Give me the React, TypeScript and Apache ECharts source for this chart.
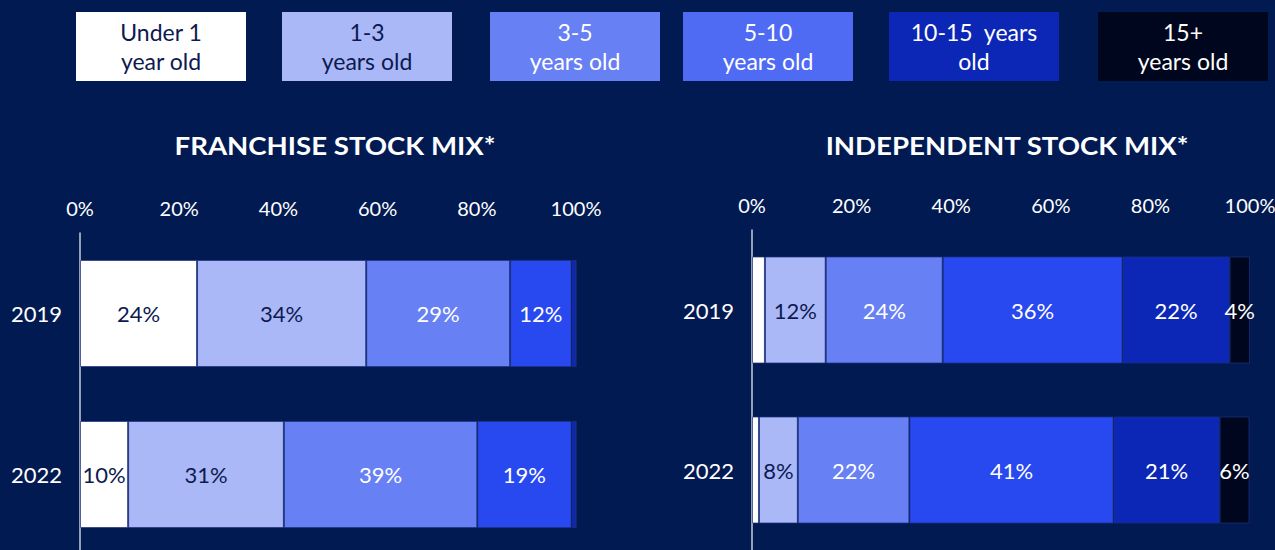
import React, { useEffect, useRef } from "react";
import * as echarts from "echarts";

const years = ["2019", "2022"];
const ageGroups = [
  "Under 1\nyear old",
  "1-3\nyears old",
  "3-5\nyears old",
  "5-10\nyears old",
  "10-15  years\nold",
  "15+\nyears old",
];
const tickLabels = ["0%", "20%", "40%", "60%", "80%", "100%"];

// values per age group: [2019, 2022]
const franchiseUnder1 = [23.6, 9.7];
const franchise1to3 = [34.1, 31.4];
const franchise3to5 = [29.0, 39.0];
const franchise5to10 = [12.4, 19.0];
const franchise10to15 = [0.9, 0.9];
const franchise15plus = [0, 0];

const independentUnder1 = [2.6, 1.4];
const independent1to3 = [12.2, 7.8];
const independent3to5 = [23.5, 22.4];
const independent5to10 = [36.1, 41.0];
const independent10to15 = [21.5, 21.3];
const independent15plus = [4.1, 6.0];

const franchiseSeries = [
  franchiseUnder1,
  franchise1to3,
  franchise3to5,
  franchise5to10,
  franchise10to15,
  franchise15plus,
];
const independentSeries = [
  independentUnder1,
  independent1to3,
  independent3to5,
  independent5to10,
  independent10to15,
  independent15plus,
];

const BG = "#011a52";
const DARK_TEXT = "#0d1a4f";
const barColors = ["#ffffff", "#aab8f8", "#6780f3", "#2848f0", "#0c27b5", "#00061e"];
const legendColors = ["#ffffff", "#aab8f8", "#6780f3", "#4f6af3", "#0c27b5", "#00061e"];
const textColors = [DARK_TEXT, DARK_TEXT, "#ffffff", "#ffffff", "#ffffff", "#ffffff"];
const FONT = "Lato, 'Noto Sans', sans-serif";

export default function App() {
  const ref = useRef<HTMLDivElement>(null);

  useEffect(() => {
    if (!ref.current) return;
    const chart = echarts.init(ref.current, null, { renderer: "svg" });

    const legendX = [76, 282, 490, 683, 889, 1098];
    const legendGraphics: any[] = [];
    ageGroups.forEach((name, i) => {
      legendGraphics.push({
        type: "rect",
        shape: { x: legendX[i], y: 12, width: 170, height: 69 },
        style: { fill: legendColors[i] },
      });
      legendGraphics.push({
        type: "text",
        x: legendX[i] + 85,
        y: 46.5,
        style: {
          text: name,
          fill: textColors[i],
          font: `23px ${FONT}`,
          lineHeight: 29,
          align: "center",
          verticalAlign: "middle",
        },
      });
    });

    const titles = [
      { text: "FRANCHISE STOCK MIX*", x: 335 },
      { text: "INDEPENDENT STOCK MIX*", x: 1007 },
    ].map((t) => ({
      type: "text",
      x: t.x,
      y: 146,
      scaleX: 1.15,
      style: {
        text: t.text,
        fill: "#ffffff",
        font: `bold 24px ${FONT}`,
        align: "center",
        verticalAlign: "middle",
      },
    }));

    const makeSeries = (data: number[][], idx: number) =>
      data.map((vals, i) => ({
        type: "bar",
        name: ageGroups[i],
        stack: "s" + idx,
        xAxisIndex: idx,
        yAxisIndex: idx,
        barWidth: 107,
        data: vals,
        itemStyle: {
          color: barColors[i],
          borderColor: "rgba(30,50,130,0.7)",
          borderWidth: 1,
        },
        label: {
          show: true,
          position: "inside",
          color: textColors[i],
          fontSize: 22,
          fontFamily: FONT,
          formatter: (p: any) => (p.value >= 3.5 ? Math.round(p.value) + "%" : ""),
        },
      }));

    const xAxis = (gridIndex: number) => ({
      type: "value",
      gridIndex,
      position: "top",
      min: 0,
      max: 100,
      interval: 20,
      axisLine: { show: false },
      axisTick: { show: false },
      splitLine: { show: false },
      axisLabel: {
        color: "#ffffff",
        fontSize: 20,
        fontFamily: FONT,
        margin: 15,
        formatter: (v: number) => tickLabels[Math.round(v / 20)],
      },
    });
    const yAxis = (gridIndex: number) => ({
      type: "category",
      gridIndex,
      inverse: true,
      data: years,
      axisLine: { show: true, lineStyle: { color: "#c8ccd8", width: 1.5 } },
      axisTick: { show: false },
      axisLabel: { color: "#ffffff", fontSize: 22, fontFamily: FONT, margin: 18 },
    });

    chart.setOption({
      animation: false,
      backgroundColor: BG,
      grid: [
        { left: 80, width: 496, top: 233, height: 322, containLabel: false, outerBoundsMode: "none" },
        { left: 752, width: 498, top: 230, height: 320, containLabel: false, outerBoundsMode: "none" },
      ],
      xAxis: [xAxis(0), xAxis(1)],
      yAxis: [yAxis(0), yAxis(1)],
      series: [...makeSeries(franchiseSeries, 0), ...makeSeries(independentSeries, 1)],
      graphic: [...legendGraphics, ...titles],
    });

    return () => chart.dispose();
  }, []);

  return (
    <div
      ref={ref}
      style={{ position: "absolute", left: 0, top: 0, width: 1275, height: 550 }}
    />
  );
}
